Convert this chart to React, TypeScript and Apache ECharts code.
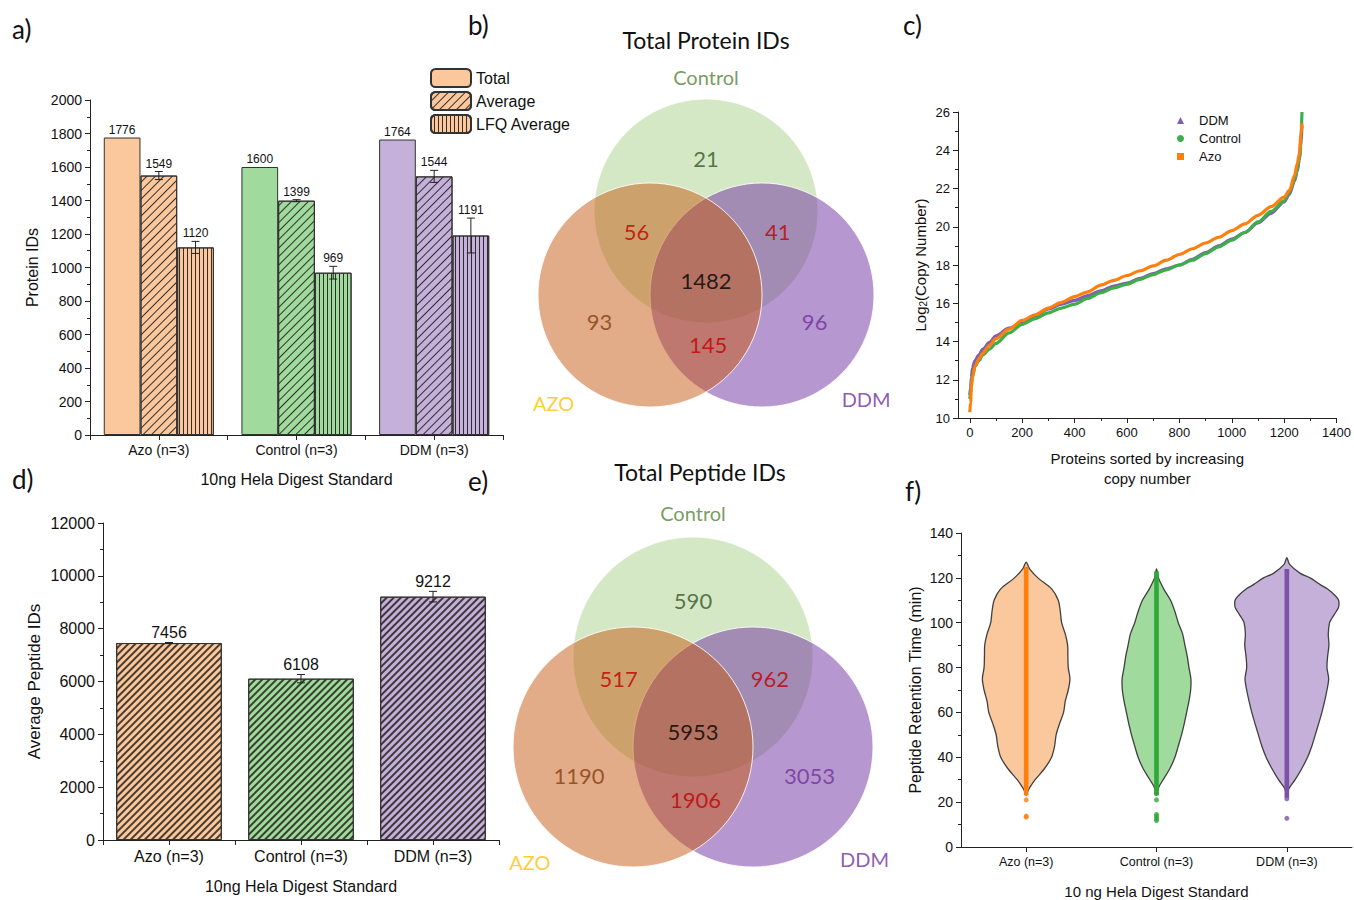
import React, { useEffect, useRef } from 'react';
import * as echarts from 'echarts';

// ---------------- DATA ----------------
const groups = ['Azo (n=3)', 'Control (n=3)', 'DDM (n=3)'];
const proteinTotal = [1776, 1600, 1764];
const proteinAverage = [1549, 1399, 1544];
const proteinAverageErr = [24, 6, 36];
const proteinLfq = [1120, 969, 1191];
const proteinLfqErr = [36, 38, 104];

const peptideAverage = [7456, 6108, 9212];
const peptideAverageErr = [20, 158, 200];

const copyRank = [0, 3, 6, 10, 20, 35, 50, 75, 100, 150, 200, 250, 300, 350, 400, 450, 500, 550, 600, 650, 700, 750, 800, 850, 900, 950, 1000, 1050, 1100, 1150, 1200, 1220, 1240, 1250, 1258, 1264, 1268];
const copyAzo = [10.3, 10.8, 11.6, 12.1, 12.7, 13.1, 13.4, 13.8, 14.15, 14.65, 15.1, 15.4, 15.75, 16.05, 16.35, 16.6, 16.95, 17.2, 17.45, 17.7, 17.95, 18.25, 18.55, 18.85, 19.15, 19.45, 19.8, 20.15, 20.6, 21.05, 21.55, 21.9, 22.7, 23.3, 23.8, 24.8, 25.4];
const copyControl = [11.0, 11.3, 11.8, 12.2, 12.7, 13.0, 13.3, 13.6, 13.9, 14.45, 14.9, 15.2, 15.5, 15.75, 15.95, 16.25, 16.55, 16.8, 17.0, 17.25, 17.5, 17.75, 18.0, 18.25, 18.6, 18.95, 19.3, 19.7, 20.25, 20.8, 21.35, 21.8, 22.5, 23.0, 23.6, 24.5, 26.0];
const copyDdm = [11.2, 11.6, 12.1, 12.6, 13.0, 13.3, 13.6, 13.95, 14.3, 14.7, 15.0, 15.35, 15.7, 15.95, 16.15, 16.4, 16.65, 16.9, 17.05, 17.3, 17.55, 17.8, 18.0, 18.3, 18.65, 19.0, 19.35, 19.7, 20.2, 20.7, 21.3, 21.7, 22.4, 22.9, 23.5, 24.2, 25.3];

const vennSetNames = ['Control', 'AZO', 'DDM'];
const vennRegionNames = ['Control only', 'AZO & Control', 'Control & DDM', 'All three', 'AZO only', 'AZO & DDM', 'DDM only'];
const proteinVennCounts = [21, 56, 41, 1482, 93, 145, 96];
const peptideVennCounts = [590, 517, 962, 5953, 1190, 1906, 3053];

const azoViolinTime = [127, 124, 120, 115, 110, 105, 100, 95, 90, 85, 80, 75, 70, 65, 60, 55, 50, 45, 40, 35, 30, 27, 25, 23];
const azoViolinWidth = [0, 0.026, 0.09, 0.197, 0.246, 0.262, 0.272, 0.3, 0.318, 0.32, 0.323, 0.336, 0.323, 0.3, 0.287, 0.256, 0.23, 0.218, 0.195, 0.141, 0.069, 0.033, 0.013, 0];
const controlViolinTime = [124, 120, 117, 115, 110, 105, 100, 95, 90, 85, 80, 75, 70, 65, 60, 55, 50, 45, 40, 35, 30, 27, 25, 23];
const controlViolinWidth = [0, 0.015, 0.038, 0.056, 0.108, 0.141, 0.167, 0.2, 0.218, 0.236, 0.249, 0.264, 0.262, 0.249, 0.231, 0.213, 0.192, 0.167, 0.141, 0.103, 0.051, 0.02, 0.008, 0];
const ddmViolinTime = [129, 126, 122, 120, 117, 115, 112, 110, 107, 105, 102, 100, 95, 90, 85, 80, 75, 70, 65, 60, 55, 50, 45, 40, 35, 30, 27, 25, 23];
const ddmViolinWidth = [0, 0.021, 0.103, 0.179, 0.256, 0.313, 0.372, 0.397, 0.397, 0.379, 0.346, 0.328, 0.318, 0.323, 0.313, 0.308, 0.321, 0.308, 0.29, 0.269, 0.244, 0.218, 0.192, 0.159, 0.115, 0.064, 0.026, 0.008, 0];
const rtMin = [23, 23, 22];
const rtMax = [125, 123, 124];
const azoOutliers = [21, 13.8, 13.3];
const controlOutliers = [24, 21, 14.5, 13.6, 12.6, 11.8];
const ddmOutliers = [21.5, 12.8];

// ---------------- STYLE / LAYOUT ----------------
const FONT = 'Liberation Sans, Arial, sans-serif';
const VFONT = 'Lato, Open Sans, sans-serif';
const BLACK = '#111';
const AX = '#222';
const groupFill = ['#FAC89C', '#A0DA9C', '#C4B0D9'];
const scatterColor = { Azo: '#FF7F0E', Control: '#3DAE49', DDM: '#7E5FB0' };
const violinLine = ['#FF7F0E', '#2EA836', '#7B52A8'];
const violinTimes = [azoViolinTime, controlViolinTime, ddmViolinTime];
const violinWidths = [azoViolinWidth, controlViolinWidth, ddmViolinWidth];
const BAR_GAP_A = 0.2;
const BAR_GAP_D = 0.2;
const plain = (v: number) => String(v);

// Venn geometry in units of circle radius (Control, AZO, DDM)
const VENN_CENTERS = [[0, -0.75], [-0.5, 0], [0.5, 0]];
const VENN_FILL = ['rgba(169,209,142,0.5)', 'rgba(197,90,17,0.5)', 'rgba(112,48,160,0.5)'];
const VENN_DRAW_ORDER = [0, 2, 1];
const VENN_REGION_POS = [[0, -1.22], [-0.62, -0.57], [0.64, -0.57], [0, -0.13], [-0.95, 0.24], [0.02, 0.44], [0.97, 0.24]];
const VENN_REGION_COLOR = ['#375623', '#C00000', '#C00000', '#000000', '#843C0C', '#C00000', '#7030A0'];
const VENN_SET_POS = [[0, -1.95], [-1.36, 0.96], [1.43, 0.93]];
const VENN_SET_COLOR = ['#548235', '#FFC000', '#7030A0'];
const VENN_Y_MIN = -2;
const VENN_Y_MAX = 1.2;

const diagDecal = { symbol: 'rect', symbolSize: 1, dashArrayX: [1, 0], dashArrayY: [1, 4.5], rotation: -Math.PI / 4, color: 'rgba(20,20,20,0.85)' };
const vertDecal = { symbol: 'rect', symbolSize: 1, dashArrayX: [1, 0], dashArrayY: [1, 3], rotation: Math.PI / 2, color: 'rgba(20,20,20,0.85)' };
const denseDecal = { symbol: 'rect', symbolSize: 1, dashArrayX: [1, 0], dashArrayY: [1.4, 2.1], rotation: -Math.PI / 4, color: 'rgba(30,25,20,0.8)' };

function axisBase(fs: number) {
  return {
    axisLine: { show: true, onZero: false, lineStyle: { color: AX, width: 1 } },
    axisTick: { show: true, inside: false, length: 5, lineStyle: { color: AX } },
    axisLabel: { color: BLACK, fontSize: fs, fontFamily: FONT, formatter: plain },
    splitLine: { show: false },
  };
}

function errorBarRender(nBars: number, catGap: number, fontSize: number, cap: number) {
  return (params: any, api: any) => {
    const cat = api.value(0);
    const v = api.value(1);
    const e = api.value(2);
    const b = api.value(3);
    const band = api.size([1, 0])[0];
    const bw = (band * (1 - catGap)) / nBars;
    const x = api.coord([cat, v])[0] + (b - (nBars - 1) / 2) * bw;
    const yTop = api.coord([cat, v + e])[1];
    const yBot = api.coord([cat, v - e])[1];
    const ls = { stroke: AX, lineWidth: 1 };
    const children: any[] = [];
    if (e > 0) {
      children.push({ type: 'line', shape: { x1: x, y1: yTop, x2: x, y2: yBot }, style: ls });
      children.push({ type: 'line', shape: { x1: x - cap, y1: yTop, x2: x + cap, y2: yTop }, style: ls });
      children.push({ type: 'line', shape: { x1: x - cap, y1: yBot, x2: x + cap, y2: yBot }, style: ls });
    }
    children.push({
      type: 'text',
      style: { text: String(v), x, y: yTop - 2, align: 'center', verticalAlign: 'bottom', fontSize, fontFamily: FONT, fill: BLACK },
    });
    return { type: 'group', children };
  };
}

function violinRender(params: any, api: any) {
  const i = params.dataIndex;
  const times = violinTimes[i];
  const widths = violinWidths[i];
  const band = api.size([1, 0])[0];
  const cx = api.coord([i, 0])[0];
  const pts: number[][] = [];
  for (let k = 0; k < times.length; k++) pts.push([cx + widths[k] * band, api.coord([i, times[k]])[1]]);
  for (let k = times.length - 2; k >= 1; k--) pts.push([cx - widths[k] * band, api.coord([i, times[k]])[1]]);
  const yA = api.coord([i, api.value(1)])[1];
  const yB = api.coord([i, api.value(2)])[1];
  return {
    type: 'group',
    children: [
      { type: 'polygon', shape: { points: pts, smooth: 0.3 }, style: { fill: groupFill[i], stroke: '#3f3f3f', lineWidth: 1.3 } },
      { type: 'rect', shape: { x: cx - 2.3, y: yB, width: 4.6, height: yA - yB }, style: { fill: violinLine[i] } },
    ],
  };
}

function buildOption() {
  const barA = (name: string, values: number[], decal: any) => ({
    type: 'bar', name, xAxisIndex: 0, yAxisIndex: 0,
    barGap: '0%', barCategoryGap: BAR_GAP_A * 100 + '%',
    itemStyle: { color: groupFill[0], borderColor: '#333', borderWidth: 1, decal },
    data: values.map((v, i) => ({ value: v, itemStyle: { color: groupFill[i] } })),
  });

  const errA: any[] = [];
  proteinTotal.forEach((v, i) => errA.push([i, v, 0, 0]));
  proteinAverage.forEach((v, i) => errA.push([i, v, proteinAverageErr[i], 1]));
  proteinLfq.forEach((v, i) => errA.push([i, v, proteinLfqErr[i], 2]));
  const errD = peptideAverage.map((v, i) => [i, v, peptideAverageErr[i], 0]);

  // Venn grids: radius in px, centre (x, y) of the AZO/DDM row
  const vennLayout = [
    { r: 112, cx: 706, cy: 295 },
    { r: 120, cx: 693, cy: 747 },
  ];
  const vennGrids = vennLayout.map((L) => ({
    left: L.cx - 2 * L.r,
    top: L.cy + VENN_Y_MIN * L.r,
    width: 4 * L.r,
    height: (VENN_Y_MAX - VENN_Y_MIN) * L.r,
  }));
  const vennCounts = [proteinVennCounts, peptideVennCounts];
  const vennSeriesList: any[] = [];
  vennGrids.forEach((g, vi) => {
    const xi = 7 + vi;
    const yi = 4 + vi;
    const diameter = g.width / 2;
    vennSeriesList.push({
      type: 'scatter', xAxisIndex: xi, yAxisIndex: yi, silent: true, clip: false,
      symbol: 'circle', symbolSize: diameter,
      data: VENN_DRAW_ORDER.map((k) => ({
        name: vennSetNames[k], value: VENN_CENTERS[k],
        itemStyle: { color: VENN_FILL[k], borderColor: 'rgba(255,255,255,0.85)', borderWidth: 1, opacity: 1 },
      })),
    });
    vennSeriesList.push({
      type: 'scatter', xAxisIndex: xi, yAxisIndex: yi, silent: true, clip: false, z: 5,
      symbolSize: 1, itemStyle: { color: 'rgba(0,0,0,0)' },
      data: vennCounts[vi].map((c, k) => ({
        name: vennRegionNames[k], value: VENN_REGION_POS[k],
        label: { show: true, position: 'inside', formatter: String(c), color: VENN_REGION_COLOR[k], fontSize: 22, fontFamily: VFONT },
      })),
    });
    vennSeriesList.push({
      type: 'scatter', xAxisIndex: xi, yAxisIndex: yi, silent: true, clip: false, z: 5,
      symbolSize: 1, itemStyle: { color: 'rgba(0,0,0,0)' },
      data: vennSetNames.map((n, k) => ({
        name: n, value: VENN_SET_POS[k],
        label: { show: true, position: 'inside', formatter: n, color: VENN_SET_COLOR[k], fontSize: 20, fontFamily: VFONT },
      })),
    });
  });

  const hiddenX = (gridIndex: number) => ({
    type: 'value', gridIndex, min: -2, max: 2, show: false,
    axisLine: { show: false }, axisTick: { show: false }, axisLabel: { show: false }, splitLine: { show: false },
  });
  const hiddenY = (gridIndex: number) => ({
    type: 'value', gridIndex, min: VENN_Y_MIN, max: VENN_Y_MAX, inverse: true, show: false,
    axisLine: { show: false }, axisTick: { show: false }, axisLabel: { show: false }, splitLine: { show: false },
  });

  const letter = (t: string, x: number, y: number) => ({
    type: 'text', x, y, silent: true,
    style: { text: t, fontSize: 26, fontFamily: VFONT, fill: BLACK },
  });

  const outlierData: any[] = [];
  azoOutliers.forEach((v) => outlierData.push({ value: [0, v], itemStyle: { color: violinLine[0] } }));
  controlOutliers.forEach((v) => outlierData.push({ value: [1, v], itemStyle: { color: violinLine[1] } }));
  ddmOutliers.forEach((v) => outlierData.push({ value: [2, v], itemStyle: { color: violinLine[2] } }));

  const cTicks = [0, 200, 400, 600, 800, 1000, 1200, 1400];

  return {
    animation: false,
    backgroundColor: '#fff',
    textStyle: { fontFamily: FONT },
    graphic: [
      letter('a)', 12, 16),
      letter('b)', 468, 12),
      letter('c)', 903, 12),
      letter('d)', 12, 466),
      letter('e)', 468, 468),
      letter('f)', 905, 478),
      { type: 'text', x: 706, y: 40, silent: true, style: { text: 'Total Protein IDs', fontSize: 23, fontFamily: VFONT, fill: BLACK, align: 'center', verticalAlign: 'middle' } },
      { type: 'text', x: 700, y: 472, silent: true, style: { text: 'Total Peptide IDs', fontSize: 23, fontFamily: VFONT, fill: BLACK, align: 'center', verticalAlign: 'middle' } },
    ],
    legend: [
      {
        data: ['Total', 'Average', 'LFQ Average'], left: 430, top: 68, orient: 'vertical', padding: 0,
        itemWidth: 40, itemHeight: 18, itemGap: 3, selectedMode: false,
        textStyle: { fontSize: 16, fontFamily: FONT, color: BLACK },
      },
      {
        data: [{ name: 'DDM', icon: 'triangle' }, { name: 'Control', icon: 'circle' }, { name: 'Azo', icon: 'rect' }],
        left: 1177, top: 114, orient: 'vertical', padding: 0,
        itemWidth: 7, itemHeight: 7, itemGap: 5, selectedMode: false,
        textStyle: { fontSize: 13, fontFamily: FONT, color: BLACK, padding: [0, 0, 0, 10] },
      },
    ],
    grid: [
      { left: 90, top: 100, width: 413, height: 335 },
      { left: 958, top: 112, width: 380, height: 306 },
      { left: 103, top: 523, width: 396, height: 317 },
      { left: 961, top: 533, width: 391, height: 314 },
      vennGrids[0],
      vennGrids[1],
    ],
    xAxis: [
      {
        type: 'category', gridIndex: 0, data: groups, ...axisBase(14),
        axisLabel: { color: BLACK, fontSize: 14, fontFamily: FONT },
        axisTick: { show: true, alignWithLabel: true, length: 5, lineStyle: { color: AX } },
        name: '10ng Hela Digest Standard', nameLocation: 'middle', nameGap: 36,
        nameTextStyle: { fontSize: 16, fontFamily: FONT, color: BLACK },
      },
      {
        type: 'category', gridIndex: 0, data: groups, position: 'bottom',
        axisLine: { show: false }, axisLabel: { show: false },
        axisTick: { show: true, length: 5, lineStyle: { color: AX } },
      },
      {
        type: 'value', gridIndex: 1, min: -45, max: 1400, ...axisBase(13),
        axisTick: { show: true, length: 5, lineStyle: { color: AX }, customValues: cTicks },
        axisLabel: { color: BLACK, fontSize: 13, fontFamily: FONT, customValues: cTicks, formatter: plain },
        name: 'Proteins sorted by increasing\ncopy number', nameLocation: 'middle', nameGap: 30,
        nameTextStyle: { fontSize: 15, fontFamily: FONT, color: BLACK, lineHeight: 20 },
      },
      {
        type: 'value', gridIndex: 1, min: -45, max: 1400, position: 'bottom',
        axisLine: { show: false }, axisLabel: { show: false }, splitLine: { show: false },
        axisTick: { show: true, length: 3, lineStyle: { color: AX }, customValues: [100, 300, 500, 700, 900, 1100, 1300] },
      },
      {
        type: 'category', gridIndex: 2, data: groups, ...axisBase(16),
        axisLabel: { color: BLACK, fontSize: 16, fontFamily: FONT },
        axisTick: { show: true, alignWithLabel: true, length: 5, lineStyle: { color: AX } },
        name: '10ng Hela Digest Standard', nameLocation: 'middle', nameGap: 38,
        nameTextStyle: { fontSize: 16, fontFamily: FONT, color: BLACK },
      },
      {
        type: 'category', gridIndex: 2, data: groups, position: 'bottom',
        axisLine: { show: false }, axisLabel: { show: false },
        axisTick: { show: true, length: 5, lineStyle: { color: AX } },
      },
      {
        type: 'category', gridIndex: 3, data: groups, ...axisBase(12.5),
        axisLabel: { color: BLACK, fontSize: 12.5, fontFamily: FONT },
        axisTick: { show: true, alignWithLabel: true, length: 5, lineStyle: { color: AX } },
        name: '10 ng Hela Digest Standard', nameLocation: 'middle', nameGap: 37,
        nameTextStyle: { fontSize: 15, fontFamily: FONT, color: BLACK },
      },
      hiddenX(4),
      hiddenX(5),
    ],
    yAxis: [
      {
        type: 'value', gridIndex: 0, min: 0, max: 2000, interval: 200, ...axisBase(14),
        minorTick: { show: true, splitNumber: 2, length: 3, lineStyle: { color: AX } },
        name: 'Protein IDs', nameLocation: 'middle', nameGap: 50,
        nameTextStyle: { fontSize: 16, fontFamily: FONT, color: BLACK },
      },
      {
        type: 'value', gridIndex: 1, min: 10, max: 26, interval: 2, ...axisBase(13),
        minorTick: { show: true, splitNumber: 2, length: 3, lineStyle: { color: AX } },
        name: 'Log{s|2}(Copy Number)', nameLocation: 'middle', nameGap: 30,
        nameTextStyle: { fontSize: 15, fontFamily: FONT, color: BLACK, rich: { s: { fontSize: 10, fontFamily: FONT, color: BLACK, verticalAlign: 'bottom', padding: [6, 0, 0, 0] } } },
      },
      {
        type: 'value', gridIndex: 2, min: 0, max: 12000, interval: 2000, ...axisBase(16),
        minorTick: { show: true, splitNumber: 2, length: 3, lineStyle: { color: AX } },
        name: 'Average Peptide IDs', nameLocation: 'middle', nameGap: 60,
        nameTextStyle: { fontSize: 17, fontFamily: FONT, color: BLACK },
      },
      {
        type: 'value', gridIndex: 3, min: 0, max: 140, interval: 20, ...axisBase(14),
        minorTick: { show: true, splitNumber: 2, length: 3, lineStyle: { color: AX } },
        name: 'Peptide Retention Time (min)', nameLocation: 'middle', nameGap: 38,
        nameTextStyle: { fontSize: 16, fontFamily: FONT, color: BLACK },
      },
      hiddenY(4),
      hiddenY(5),
    ],
    series: [
      barA('Total', proteinTotal, 'none'),
      barA('Average', proteinAverage, diagDecal),
      barA('LFQ Average', proteinLfq, vertDecal),
      {
        type: 'custom', name: 'a-err', xAxisIndex: 0, yAxisIndex: 0, silent: true, z: 3,
        renderItem: errorBarRender(3, BAR_GAP_A, 12, 4), encode: { x: 0, y: 1 }, data: errA,
      },
      ...(['DDM', 'Control', 'Azo'] as const).map((n) => ({
        type: 'line', name: n, xAxisIndex: 2, yAxisIndex: 1, showSymbol: false, smooth: 0.3, smoothMonotone: 'x',
        itemStyle: { color: scatterColor[n] },
        lineStyle: { color: scatterColor[n], width: 3.2 },
        data: copyRank.map((r, i) => [r, n === 'DDM' ? copyDdm[i] : n === 'Control' ? copyControl[i] : copyAzo[i]]),
      })),
      {
        type: 'bar', name: 'Average peptides', xAxisIndex: 4, yAxisIndex: 2, barCategoryGap: BAR_GAP_D * 100 + '%',
        itemStyle: { color: groupFill[0], borderColor: '#333', borderWidth: 1, decal: denseDecal },
        data: peptideAverage.map((v, i) => ({ value: v, itemStyle: { color: groupFill[i] } })),
      },
      {
        type: 'custom', name: 'd-err', xAxisIndex: 4, yAxisIndex: 2, silent: true, z: 3,
        renderItem: errorBarRender(1, BAR_GAP_D, 16, 4), encode: { x: 0, y: 1 }, data: errD,
      },
      {
        type: 'custom', name: 'violin', xAxisIndex: 6, yAxisIndex: 3, silent: true,
        renderItem: violinRender, encode: { x: 0, y: [1, 2] },
        data: groups.map((g, i) => [i, rtMin[i], rtMax[i]]),
      },
      {
        type: 'scatter', name: 'outliers', xAxisIndex: 6, yAxisIndex: 3, silent: true, symbolSize: 5, z: 4,
        data: outlierData,
      },
      ...vennSeriesList,
    ],
  };
}

export default function App() {
  const ref = useRef<HTMLDivElement>(null);
  useEffect(() => {
    const chart = echarts.init(ref.current!, undefined, { renderer: 'svg' });
    chart.setOption(buildOption() as any);
    return () => chart.dispose();
  }, []);
  return (
    <div
      ref={ref}
      style={{ position: 'absolute', left: 0, top: 0, width: 1354, height: 900, background: '#fff' }}
    />
  );
}
